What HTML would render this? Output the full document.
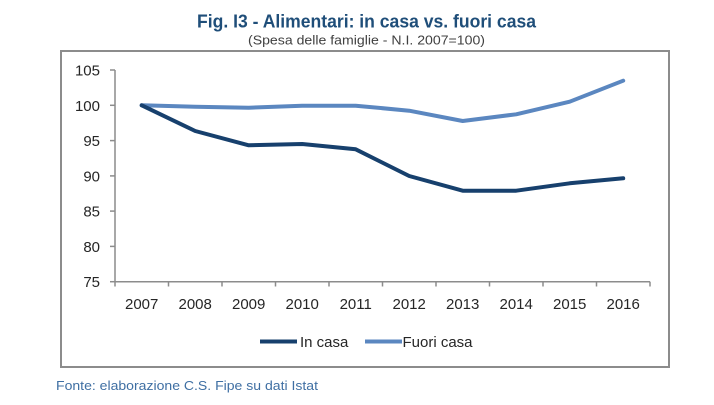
<!DOCTYPE html>
<html>
<head>
<meta charset="utf-8">
<style>
  html, body { margin: 0; padding: 0; background: #ffffff; }
  svg { display: block; }
  text { font-family: "Liberation Sans", Arial, sans-serif; }
</style>
</head>
<body>
<svg width="714" height="405" viewBox="0 0 714 405" xmlns="http://www.w3.org/2000/svg">
  <rect x="0" y="0" width="714" height="405" fill="#ffffff"/>

  <!-- Title -->
  <text x="197" y="27.5" font-size="18" font-weight="bold" fill="#1f4e79" textLength="339" lengthAdjust="spacingAndGlyphs">Fig. I3 - Alimentari: in casa vs. fuori casa</text>
  <text x="248" y="44.5" font-size="13" fill="#404040" textLength="237" lengthAdjust="spacingAndGlyphs">(Spesa delle famiglie - N.I. 2007=100)</text>

  <!-- Frame -->
  <rect x="61" y="51" width="608" height="316" fill="none" stroke="#8c8c8c" stroke-width="2"/>

  <!-- Y axis -->
  <g stroke="#8c8c8c" stroke-width="1.5" fill="none">
    <line x1="115" y1="70" x2="115" y2="281.7"/>
    <line x1="110" y1="70" x2="115" y2="70"/>
    <line x1="110" y1="105.3" x2="115" y2="105.3"/>
    <line x1="110" y1="140.6" x2="115" y2="140.6"/>
    <line x1="110" y1="175.9" x2="115" y2="175.9"/>
    <line x1="110" y1="211.1" x2="115" y2="211.1"/>
    <line x1="110" y1="246.4" x2="115" y2="246.4"/>
    <line x1="110" y1="281.7" x2="115" y2="281.7"/>
    <!-- X axis -->
    <line x1="115" y1="281.7" x2="650" y2="281.7"/>
    <line x1="115" y1="281.7" x2="115" y2="286.5"/>
    <line x1="168.5" y1="281.7" x2="168.5" y2="286.5"/>
    <line x1="222" y1="281.7" x2="222" y2="286.5"/>
    <line x1="275.5" y1="281.7" x2="275.5" y2="286.5"/>
    <line x1="329" y1="281.7" x2="329" y2="286.5"/>
    <line x1="382.5" y1="281.7" x2="382.5" y2="286.5"/>
    <line x1="436" y1="281.7" x2="436" y2="286.5"/>
    <line x1="489.5" y1="281.7" x2="489.5" y2="286.5"/>
    <line x1="543" y1="281.7" x2="543" y2="286.5"/>
    <line x1="596.5" y1="281.7" x2="596.5" y2="286.5"/>
    <line x1="650" y1="281.7" x2="650" y2="286.5"/>
  </g>

  <!-- Y labels -->
  <g font-size="15" fill="#262626" text-anchor="end">
    <text x="100" y="75.5">105</text>
    <text x="100" y="110.8">100</text>
    <text x="100" y="146.1">95</text>
    <text x="100" y="181.4">90</text>
    <text x="100" y="216.6">85</text>
    <text x="100" y="251.9">80</text>
    <text x="100" y="287.2">75</text>
  </g>

  <!-- X labels -->
  <g font-size="15" fill="#262626" text-anchor="middle">
    <text x="141.7" y="309">2007</text>
    <text x="195.2" y="309">2008</text>
    <text x="248.7" y="309">2009</text>
    <text x="302.2" y="309">2010</text>
    <text x="355.7" y="309">2011</text>
    <text x="409.2" y="309">2012</text>
    <text x="462.7" y="309">2013</text>
    <text x="516.2" y="309">2014</text>
    <text x="569.7" y="309">2015</text>
    <text x="623.2" y="309">2016</text>
  </g>

  <!-- Series -->
  <polyline fill="none" stroke="#5b87c0" stroke-width="4" stroke-linejoin="round" stroke-linecap="round"
    points="141.7,105.3 195.2,106.7 248.7,107.7 302.2,105.7 355.7,105.7 409.2,110.7 462.7,121 516.2,114.3 569.7,101.7 623.2,80.7"/>
  <polyline fill="none" stroke="#17406d" stroke-width="4" stroke-linejoin="round" stroke-linecap="round"
    points="141.7,105.3 195.2,131 248.7,145.3 302.2,144 355.7,149.3 409.2,176 462.7,190.7 516.2,190.7 569.7,183.3 623.2,178.3"/>

  <!-- Legend -->
  <line x1="260" y1="341.5" x2="297" y2="341.5" stroke="#17406d" stroke-width="4"/>
  <text x="300" y="347" font-size="15" fill="#262626">In casa</text>
  <line x1="365" y1="341.5" x2="402" y2="341.5" stroke="#5b87c0" stroke-width="4"/>
  <text x="402.5" y="347" font-size="15" fill="#262626">Fuori casa</text>

  <!-- Footer -->
  <text x="56" y="390" font-size="13" fill="#3f6fa3" textLength="262" lengthAdjust="spacingAndGlyphs">Fonte: elaborazione C.S. Fipe su dati Istat</text>
</svg>
</body>
</html>
